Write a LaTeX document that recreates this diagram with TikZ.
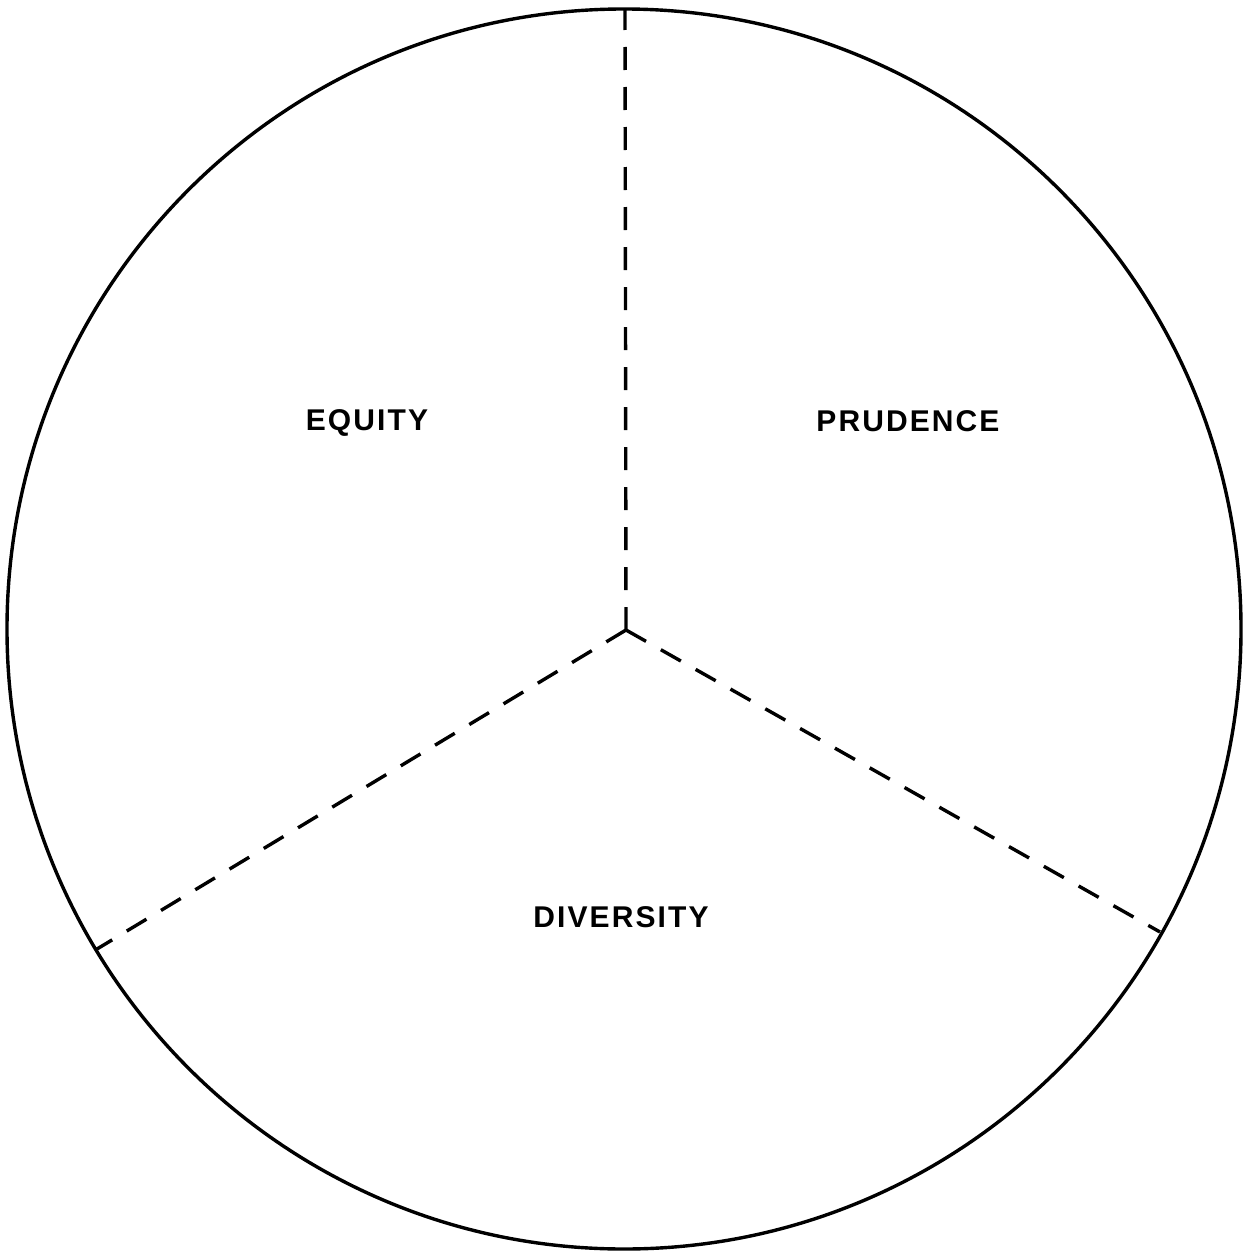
\documentclass[tikz,border=0pt]{standalone}
\usepackage{fontspec}
\setmainfont{Liberation Sans}
\newfontfamily\labelfont[LetterSpace=7]{Liberation Sans}
\begin{document}
\begin{tikzpicture}[x=0.5pt,y=-0.5pt,
  rim/.style={line width=1.7pt},
  divider/.style={line width=1.7pt, dash pattern=on 11.5pt off 8.5pt},
  sector/.style={font=\labelfont\bfseries\fontsize{15}{17}\selectfont, inner sep=0pt, anchor=base}]
\useasboundingbox (0,0) rectangle (1243,1252);
\draw[rim] (624,629) ellipse [x radius=617, y radius=620];
\coordinate (c) at (626,630);
\coordinate (top) at (625,9);
\coordinate (ll) at (97,949);
\coordinate (lr) at (1160,932);
\draw[divider] (c) -- (top);
\draw[divider] (c) -- (ll);
\draw[divider] (c) -- (lr);
\node[sector] (equity) at (367,430) {EQUITY};
\node[sector] (prudence) at (908,431) {PRUDENCE};
\node[sector] (diversity) at (621,927) {DIVERSITY};
\end{tikzpicture}
\end{document}
